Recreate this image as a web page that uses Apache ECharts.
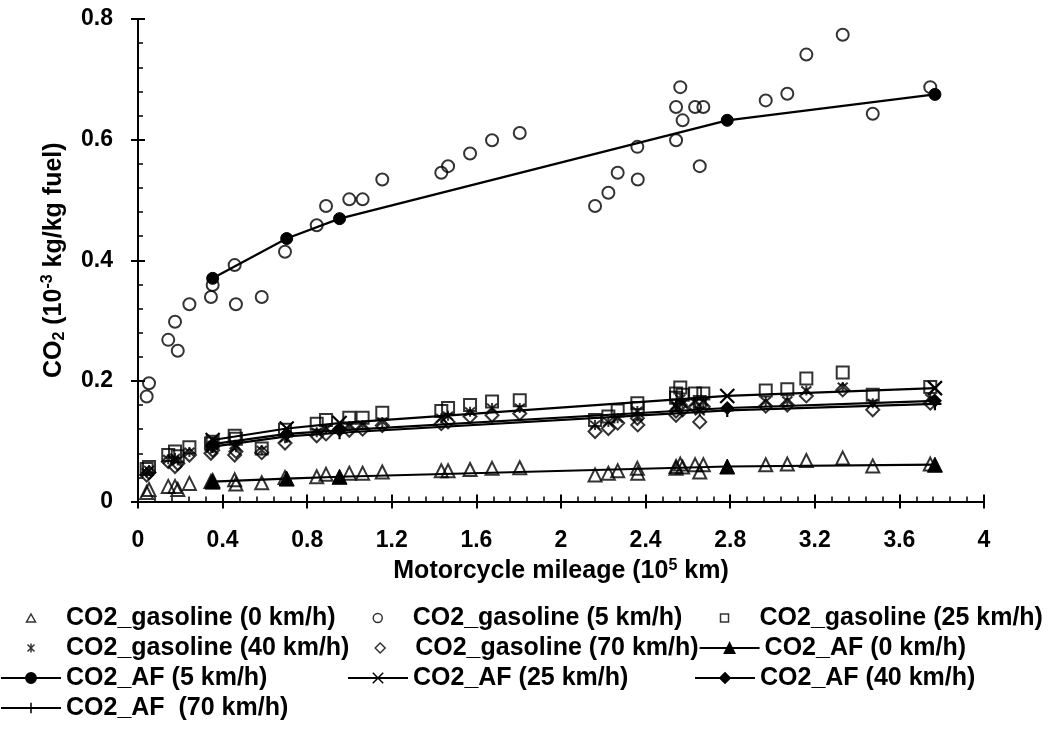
<!DOCTYPE html>
<html><head><meta charset="utf-8">
<script src="https://cdn.jsdelivr.net/npm/echarts@6/dist/echarts.min.js"></script>
<style>html,body{margin:0;padding:0;background:#fff}#c{width:1049px;height:732px}</style>
</head><body><div id="c"></div>
<script>
// ---- data ----
const mileage = [0.041,0.052,0.143,0.175,0.188,0.243,0.345,0.353,0.457,0.463,0.585,0.695,0.845,0.889,0.999,1.062,1.155,1.434,1.466,1.570,1.674,1.805,2.161,2.224,2.268,2.361,2.363,2.544,2.544,2.564,2.575,2.634,2.656,2.673,2.968,3.070,3.160,3.332,3.474,3.746];
const gas0  = [0.015,0.020,0.025,0.025,0.020,0.030,0.033,0.035,0.036,0.029,0.031,0.040,0.041,0.045,0.047,0.047,0.049,0.051,0.051,0.053,0.055,0.056,0.044,0.047,0.051,0.055,0.047,0.055,0.058,0.062,0.057,0.061,0.049,0.061,0.061,0.062,0.068,0.072,0.059,0.062];
const gas5  = [0.174,0.196,0.268,0.298,0.250,0.327,0.339,0.359,0.392,0.327,0.339,0.414,0.458,0.490,0.501,0.501,0.534,0.545,0.556,0.577,0.599,0.611,0.490,0.512,0.545,0.588,0.534,0.599,0.654,0.687,0.632,0.654,0.556,0.654,0.665,0.676,0.741,0.774,0.643,0.687];
const gas25 = [0.054,0.057,0.077,0.083,0.075,0.090,0.096,0.099,0.109,0.104,0.088,0.119,0.129,0.135,0.139,0.139,0.147,0.150,0.155,0.160,0.166,0.168,0.135,0.141,0.151,0.163,0.155,0.179,0.172,0.189,0.177,0.179,0.165,0.179,0.184,0.186,0.204,0.214,0.177,0.190];
const gas40 = [0.048,0.052,0.070,0.072,0.068,0.082,0.088,0.093,0.094,0.090,0.085,0.105,0.115,0.120,0.125,0.127,0.132,0.138,0.142,0.149,0.155,0.155,0.127,0.132,0.138,0.150,0.141,0.160,0.158,0.170,0.163,0.165,0.150,0.165,0.166,0.167,0.184,0.190,0.163,0.171];
const gas70 = [0.044,0.048,0.066,0.058,0.063,0.077,0.080,0.085,0.077,0.083,0.081,0.097,0.109,0.112,0.118,0.120,0.126,0.129,0.132,0.141,0.143,0.146,0.116,0.121,0.130,0.138,0.127,0.143,0.150,0.160,0.152,0.157,0.132,0.157,0.158,0.160,0.175,0.185,0.152,0.163];
const afMileage = [0.353,0.703,0.953,2.786,3.768];
const af0  = [0.033,0.038,0.041,0.058,0.061];
const af5  = [0.370,0.436,0.469,0.632,0.675];
const af25 = [0.102,0.121,0.130,0.175,0.188];
const af40 = [0.095,0.112,0.118,0.155,0.167];
const af70 = [0.091,0.108,0.114,0.151,0.162];
const xTicks = [0,0.4,0.8,1.2,1.6,2,2.4,2.8,3.2,3.6,4];
const yTicks = [0,0.2,0.4,0.6,0.8];
const seriesNames = ['CO2_gasoline (0 km/h)','CO2_gasoline (5 km/h)','CO2_gasoline (25 km/h)','CO2_gasoline (40 km/h)','CO2_gasoline (70 km/h)','CO2_AF (0 km/h)','CO2_AF (5 km/h)','CO2_AF (25 km/h)','CO2_AF (40 km/h)','CO2_AF  (70 km/h)'];

// ---- styling ----
const FONT = '"Liberation Sans", Arial, sans-serif';
const BLACK = '#000';
const ASTER = 'path://M0,0L10,10M10,0L0,10M5,-1L5,11';
const CROSS = 'path://M0,0L10,10M10,0L0,10';
const PLUS = 'path://M5,0L5,10M0,5L10,5';
const pair = (xs, ys) => xs.map((x, i) => [x, ys[i]]);
const gridRect = {left:138, right:65, top:19, bottom:230.5};
const txt = {color:BLACK, fontFamily:FONT, fontWeight:'bold'};

const openStyle = {color:'rgba(0,0,0,0)', borderColor:BLACK, borderWidth:2};
function scatter(name, ys, symbol, size){
  return {name, type:'scatter', data:pair(mileage, ys), symbol, symbolSize:size,
    itemStyle:openStyle, emphasis:{disabled:true}, xAxisIndex:0, yAxisIndex:0};
}
function afLine(name, ys, symbol, size, filled){
  return {name, type:'line', data:pair(afMileage, ys), symbol, symbolSize:size, showSymbol:true,
    lineStyle:{color:BLACK, width:2.2},
    itemStyle: filled ? {color:BLACK, borderColor:BLACK, borderWidth:1} : {color:'rgba(0,0,0,0)', borderColor:BLACK, borderWidth:2.2},
    emphasis:{disabled:true}, xAxisIndex:0, yAxisIndex:0, z:3};
}

// legend keys drawn in a 60x13 box so every key is as wide as the line keys
const legendIcons = [
  'path://M0,0M60,13M30,2.5L34.5,10.5L25.5,10.5Z',
  'path://M0,0M60,13M34.5,6.5A4.5,4.5,0,1,1,25.5,6.5A4.5,4.5,0,1,1,34.5,6.5Z',
  'path://M0,0M60,13M26,2.5L34,2.5L34,10.5L26,10.5Z',
  'path://M0,0M60,13M26.5,3L33.5,10M33.5,3L26.5,10M30,2L30,11',
  'path://M0,0M60,13M30,1.5L35,6.5L30,11.5L25,6.5Z'
];

const valAxisBase = (ticks) => ({type:'value', min:ticks[0], max:ticks[ticks.length-1], interval:ticks[1]-ticks[0], splitLine:{show:false}});

const option = {
  animation:false,
  backgroundColor:'#fff',
  grid:[Object.assign({}, gridRect), Object.assign({}, gridRect)],
  xAxis:[
    Object.assign(valAxisBase(xTicks), {gridIndex:0,
      axisLine:{show:true, onZero:false, lineStyle:{color:BLACK, width:2}},
      axisTick:{show:true, inside:false, length:7, lineStyle:{color:BLACK, width:2}},
      axisLabel:Object.assign({margin:28, fontSize:23}, txt),
      name:'{a|Motorcycle mileage (10}{s|5}{a| km)}', nameLocation:'middle', nameGap:50,
      nameTextStyle:{rich:{
        a:Object.assign({fontSize:25, lineHeight:28}, txt),
        s:Object.assign({fontSize:16, lineHeight:20, verticalAlign:'top'}, txt)
      }}
    }),
    Object.assign(valAxisBase(xTicks), {gridIndex:1,
      axisLine:{show:false, onZero:false},
      axisTick:{show:true, inside:true, length:7, lineStyle:{color:BLACK, width:2}},
      minorTick:{show:true, splitNumber:5, length:5, lineStyle:{color:BLACK, width:1.5}},
      axisLabel:{show:false}
    })
  ],
  yAxis:[
    Object.assign(valAxisBase(yTicks), {gridIndex:0,
      axisLine:{show:true, onZero:false, lineStyle:{color:BLACK, width:2}},
      axisTick:{show:true, inside:false, length:7, lineStyle:{color:BLACK, width:2}},
      axisLabel:Object.assign({margin:25, fontSize:23}, txt),
      name:'{a|CO}{b|2}{a| (10}{s|-3}{a| kg/kg fuel)}', nameLocation:'middle', nameGap:70,
      nameTextStyle:{rich:{
        a:Object.assign({fontSize:25, lineHeight:28}, txt),
        b:Object.assign({fontSize:16, lineHeight:14, verticalAlign:'bottom'}, txt),
        s:Object.assign({fontSize:16, lineHeight:20, verticalAlign:'top'}, txt)
      }}
    }),
    Object.assign(valAxisBase(yTicks), {gridIndex:1,
      axisLine:{show:false, onZero:false},
      axisTick:{show:true, inside:true, length:7, lineStyle:{color:BLACK, width:2}},
      minorTick:{show:true, splitNumber:5, length:5, lineStyle:{color:BLACK, width:1.5}},
      axisLabel:{show:false}
    })
  ],
  legend:{
    left:0, top:603, width:1049, padding:0, itemGap:0, itemWidth:60, itemHeight:13,
    selectedMode:false,
    itemStyle:{borderWidth:1.5},
    textStyle:Object.assign({fontSize:25, width:281, lineHeight:30}, txt),
    data: seriesNames.map((n, i) => i < 5 ? {name:n, icon:legendIcons[i]} : {name:n})
  },
  series:[
    scatter(seriesNames[0], gas0, 'triangle', 13),
    scatter(seriesNames[1], gas5, 'circle', 12),
    scatter(seriesNames[2], gas25, 'rect', 12),
    scatter(seriesNames[3], gas40, ASTER, 10),
    scatter(seriesNames[4], gas70, 'diamond', 13),
    afLine(seriesNames[5], af0, 'triangle', 15, true),
    afLine(seriesNames[6], af5, 'circle', 12, true),
    afLine(seriesNames[7], af25, CROSS, 14, false),
    afLine(seriesNames[8], af40, 'diamond', 13, true),
    afLine(seriesNames[9], af70, PLUS, 13, false)
  ]
};
const chart = echarts.init(document.getElementById('c'), null, {renderer:'canvas'});
chart.setOption(option);
</script></body></html>
